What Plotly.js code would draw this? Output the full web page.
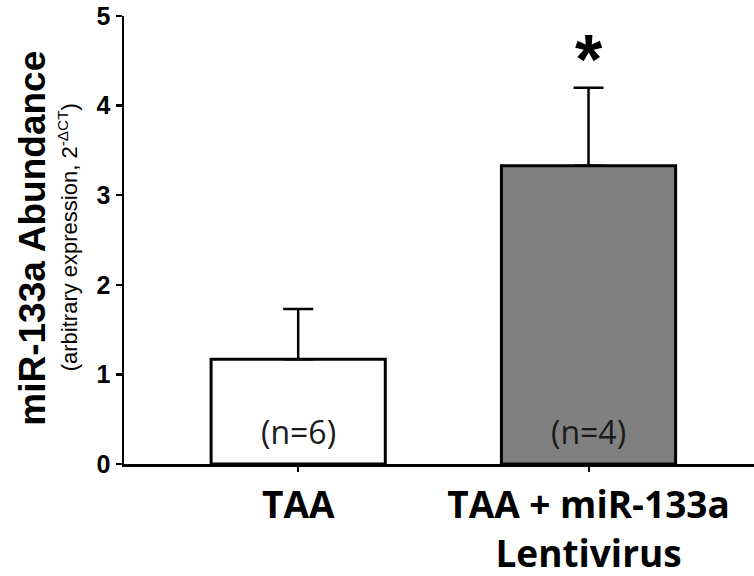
<!DOCTYPE html>
<html>
<head>
<meta charset="utf-8">
<script src="https://cdn.plot.ly/plotly-3.0.1.min.js"></script>
<style>html,body{margin:0;padding:0;background:#fff;}#chart{width:754px;height:576px;}</style>
</head>
<body>
<div id="chart"></div>
<script>
var categories = ["TAA", "TAA + miR-133a<br>Lentivirus"];
var values = [1.17, 3.33];
var errors = [0.56, 0.87];
var nLabels = ["(n=6)", "(n=4)"];
var barColors = ["#ffffff", "#808080"];
var significant = [false, true];
var yTickVals = [0, 1, 2, 3, 4, 5];

var xIdx = categories.map(function (c, i) { return i; });

var trace = {
  type: "bar",
  x: xIdx,
  y: values,
  width: 0.6,
  marker: { color: barColors, line: { color: "#000", width: 3 } },
  error_y: {
    type: "data", symmetric: false, array: errors,
    arrayminus: errors.map(function () { return 0; }),
    color: "#000", thickness: 2.5, width: 15
  },
  hoverinfo: "none"
};

var annotations = [];
nLabels.forEach(function (t, i) {
  annotations.push({
    x: i, y: 0.36, xref: "x", yref: "y", text: t, showarrow: false,
    font: { family: "Open Sans", size: 32, color: "#1a1a1a" }
  });
  if (significant[i]) {
    annotations.push({
      x: i, y: values[i] + errors[i] + 0.31, xref: "x", yref: "y", text: "<b>*</b>",
      showarrow: false, font: { family: "Liberation Sans", size: 70, color: "#000" }
    });
  }
});
annotations.push({
  xref: "paper", yref: "paper", x: -0.1444, y: 0.503, textangle: -90,
  xanchor: "center", yanchor: "middle", showarrow: false,
  text: "<b>miR-133a Abundance</b>",
  font: { family: "Liberation Sans", size: 37, color: "#000" }
});
annotations.push({
  xref: "paper", yref: "paper", x: -0.0889, y: 0.506, textangle: -90,
  xanchor: "center", yanchor: "middle", showarrow: false,
  text: "(arbitrary expression, 2<sup>-ΔCT</sup>)",
  font: { family: "Liberation Sans", size: 22, color: "#000" }
});

var layout = {
  width: 754, height: 576,
  margin: { l: 124, r: 0, t: 16, b: 112 },
  paper_bgcolor: "#fff", plot_bgcolor: "#fff",
  showlegend: false,
  xaxis: {
    range: [-0.6, 1.57],
    tickmode: "array", tickvals: xIdx,
    ticktext: categories.map(function (c) { return "<b>" + c + "</b>"; }),
    ticks: "outside", ticklen: 5, tickwidth: 2, tickcolor: "#000",
    showline: true, linecolor: "#000", linewidth: 3,
    showgrid: false, zeroline: false,
    tickfont: { family: "Open Sans", size: 37, color: "#000" },
    ticklabelstandoff: 2
  },
  yaxis: {
    range: [0, 5],
    tickmode: "array", tickvals: yTickVals,
    ticktext: yTickVals.map(function (v) { return "<b>" + v + "</b>"; }),
    ticks: "outside", ticklen: 6, tickwidth: 2.5, tickcolor: "#000",
    showline: true, linecolor: "#000", linewidth: 2.5,
    showgrid: false, zeroline: false,
    tickfont: { family: "Liberation Sans", size: 25, color: "#000" }
  },
  annotations: annotations
};

Plotly.newPlot("chart", [trace], layout, { staticPlot: true, displayModeBar: false });
</script>
</body>
</html>
